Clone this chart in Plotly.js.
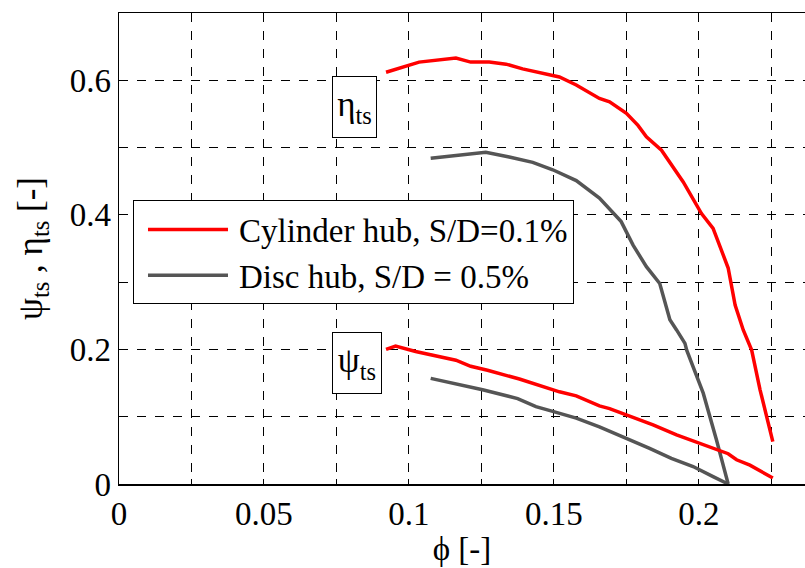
<!DOCTYPE html>
<html>
<head>
<meta charset="utf-8">
<script src="https://cdn.plot.ly/plotly-3.0.1.min.js"></script>
<style>html,body{margin:0;padding:0;overflow:hidden;background:#fff}</style>
</head>
<body>
<div id="chart" style="width:805px;height:568px"></div>
<script>
// Cylinder hub, S/D=0.1% — efficiency eta_ts
const cylEtaPhi = [0.0921,0.0965,0.1035,0.1162,0.1213,0.1277,0.1335,0.1392,0.1461,0.1519,0.1577,0.1657,0.1692,0.1750,0.1790,0.1819,0.1871,0.1946,0.2009,0.2049,0.2101,0.2125,0.2153,0.2182,0.2211,0.2255];
const cylEta    = [0.612,0.618,0.627,0.633,0.627,0.627,0.624,0.617,0.611,0.605,0.593,0.573,0.568,0.551,0.533,0.516,0.496,0.449,0.402,0.380,0.321,0.266,0.229,0.199,0.140,0.063];
// Cylinder hub — pressure coefficient psi_ts
const cylPsiPhi = [0.0921,0.0954,0.1023,0.1162,0.1213,0.1271,0.1381,0.1450,0.1519,0.1577,0.1657,0.1692,0.1773,0.1842,0.1923,0.1980,0.2049,0.2101,0.2130,0.2176,0.2255];
const cylPsi    = [0.200,0.205,0.197,0.184,0.175,0.169,0.156,0.147,0.137,0.131,0.116,0.112,0.099,0.088,0.073,0.064,0.053,0.045,0.036,0.028,0.009];
// Disc hub, S/D = 0.5% — efficiency eta_ts
const discEtaPhi = [0.1075,0.1265,0.1346,0.1427,0.1496,0.1577,0.1657,0.1732,0.1773,0.1819,0.1865,0.1900,0.1923,0.1952,0.1958,0.1992,0.2015,0.2061,0.2101];
const discEta    = [0.484,0.493,0.486,0.478,0.467,0.451,0.425,0.390,0.355,0.323,0.298,0.244,0.229,0.209,0.199,0.160,0.135,0.065,0.000];
// Disc hub — pressure coefficient psi_ts
const discPsiPhi = [0.1075,0.1150,0.1254,0.1375,0.1438,0.1496,0.1577,0.1657,0.1750,0.1830,0.1905,0.1980,0.2049,0.2101];
const discPsi    = [0.157,0.150,0.140,0.127,0.115,0.108,0.098,0.085,0.068,0.053,0.038,0.026,0.011,0.000];

const seriesNames = ["Cylinder hub, S/D=0.1%", "Disc hub, S/D = 0.5%"];
const curveLabels = ["η<sub>ts</sub>", "ψ<sub>ts</sub>"];

const RED = "#ff0000", GRAY = "#555555";
const FONT = "Liberation Serif, Times New Roman, serif";
const FS = 33;

const traces = [
  {x: cylEtaPhi, y: cylEta, mode: "lines", name: seriesNames[0], legendgroup: "cyl",
   line: {color: RED, width: 3.5}},
  {x: discEtaPhi, y: discEta, mode: "lines", name: seriesNames[1], legendgroup: "disc",
   line: {color: GRAY, width: 3.5}},
  {x: cylPsiPhi, y: cylPsi, mode: "lines", name: seriesNames[0], legendgroup: "cyl", showlegend: false,
   line: {color: RED, width: 3.5}},
  {x: discPsiPhi, y: discPsi, mode: "lines", name: seriesNames[1], legendgroup: "disc", showlegend: false,
   line: {color: GRAY, width: 3.5}}
];

const gridStyle = {showgrid: true, gridcolor: "#000", gridwidth: 1, griddash: "dash"};

const layout = {
  width: 805, height: 568,
  margin: {l: 119, r: 0, t: 13, b: 84},
  paper_bgcolor: "#fff", plot_bgcolor: "#fff",
  font: {family: FONT, size: FS, color: "#000"},
  showlegend: true,
  legend: {
    x: 0.0204, y: 0.602, xanchor: "left", yanchor: "top",
    bgcolor: "#fff", bordercolor: "#000", borderwidth: 1,
    font: {family: FONT, size: FS, color: "#000"},
    itemwidth: 95, tracegroupgap: 0
  },
  xaxis: Object.assign({
    range: [0, 0.2366], autorange: false,
    tick0: 0, dtick: 0.05,
    ticks: "inside", ticklen: 5, tickcolor: "#000",
    minor: Object.assign({dtick: 0.025, ticks: "inside", ticklen: 5, tickcolor: "#000"}, gridStyle),
    showline: true, linecolor: "#000", linewidth: 1.5, mirror: true,
    zeroline: false,
    tickfont: {family: FONT, size: FS},
    title: {text: "ϕ [-]", font: {family: FONT, size: FS}, standoff: 6}
  }, gridStyle),
  yaxis: Object.assign({
    range: [0, 0.7], autorange: false,
    tick0: 0, dtick: 0.2,
    ticks: "inside", ticklen: 5, tickcolor: "#000",
    minor: Object.assign({dtick: 0.1, ticks: "inside", ticklen: 5, tickcolor: "#000"}, gridStyle),
    showline: true, linecolor: "#000", linewidth: 1.5, mirror: false,
    zeroline: false,
    tickfont: {family: FONT, size: FS},
    title: {text: "ψ<sub>ts</sub> , η<sub>ts</sub> [-]", font: {family: FONT, size: 35}, standoff: 16}
  }, gridStyle),
  annotations: [
    {x: 0.0734, y: 0.56, xref: "x", yref: "y", xanchor: "left", yanchor: "middle",
     text: curveLabels[0], showarrow: false, bgcolor: "#fff", bordercolor: "#000", borderwidth: 1, borderpad: 1,
     width: 41, height: 58, align: "center", valign: "middle",
     font: {family: FONT, size: 35, color: "#000"}},
    {x: 0.0734, y: 0.18, xref: "x", yref: "y", xanchor: "left", yanchor: "middle",
     text: curveLabels[1], showarrow: false, bgcolor: "#fff", bordercolor: "#000", borderwidth: 1, borderpad: 1,
     width: 46, height: 58, align: "center", valign: "middle",
     font: {family: FONT, size: 35, color: "#000"}}
  ]
};

Plotly.newPlot("chart", traces, layout, {displayModeBar: false, staticPlot: true}).then(function (gd) {
  // lengthen the legend sample lines to match the reference legend
  gd.querySelectorAll(".legend .legendlines path").forEach(function (p) {
    p.setAttribute("d", "M14,0h80");
  });
});
</script>
</body>
</html>
